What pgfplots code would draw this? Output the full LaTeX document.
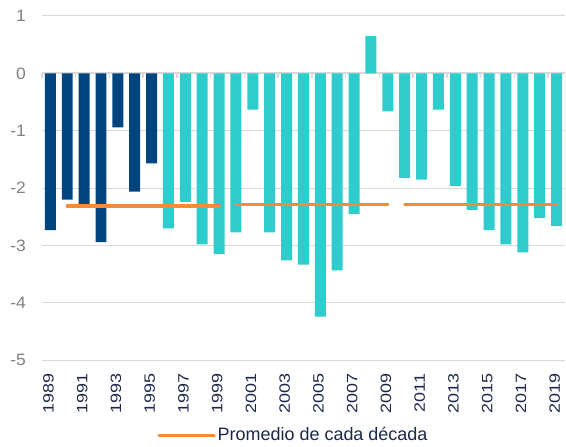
\documentclass[border=0pt]{standalone}
\usepackage{fontspec}
\setmainfont{Liberation Sans}
\newfontfamily\widefont[FakeStretch=1.2]{Liberation Sans}
\newfontfamily\ywidefont[FakeStretch=1.06]{Liberation Sans}
\usepackage{pgfplots}
\pgfplotsset{compat=1.18}
\definecolor{dblue}{RGB}{0,69,127}
\definecolor{cyanbar}{RGB}{46,204,204}
\definecolor{orangeln}{RGB}{245,139,58}
\definecolor{gridgray}{RGB}{217,217,217}
\definecolor{labgray}{RGB}{127,127,127}
\definecolor{navytext}{RGB}{28,40,75}
\begin{document}
\begin{tikzpicture}
\begin{axis}[
  scale only axis, width=524pt, height=345pt,
  xmin=1988.5, xmax=2019.5, ymin=-5, ymax=1,
  ytick={-5,-4,-3,-2,-1,0,1},
  xtick={1989,1991,...,2019},
  xticklabels={1989,1991,1993,1995,1997,1999,2001,2003,2005,2007,2009,2011,2013,2015,2017,2019},
  axis line style={draw=none},
  major tick length=0pt,
  ymajorgrids, grid style={color=gridgray, line width=1pt},
  extra y ticks={0}, extra y tick labels={},
  extra y tick style={grid style={color=gridgray, line width=2pt}},
  /pgf/number format/assume math mode=true,
  yticklabel style={font=\ywidefont\fontsize{16.5}{19}\selectfont, text=labgray, xshift=-12.5pt},
  xticklabel style={font=\widefont\fontsize{15}{18}\selectfont, text=navytext, xshift=-2pt, yshift=-10pt, rotate=90, anchor=east},
  legend style={at={(0.481,-0.217)}, anchor=center, draw=none, fill=none,
    font=\fontsize{18}{21}\selectfont, text=navytext},
  legend image code/.code={\draw[#1] (0pt,0pt) -- (55pt,0pt);},
  clip=false,
]
\pgfplotsinvokeforeach{1988.5,1990.5,1992.5,1994.5,1996.5,1998.5,2000.5,2002.5,2004.5,2006.5,2008.5,2010.5,2012.5,2014.5,2016.5,2018.5}{
  \draw[gridgray, line width=1.5pt] (axis cs:#1,0) -- ++(0pt,-5pt);
}
\addplot[ybar, bar width=0.65, bar shift=0pt, fill=dblue, draw=none, forget plot] coordinates {
 (1989,-2.73) (1990,-2.20) (1991,-2.34) (1992,-2.94) (1993,-0.94) (1994,-2.06) (1995,-1.57)
};
\addplot[ybar, bar width=0.65, bar shift=0pt, fill=cyanbar, draw=none, forget plot] coordinates {
 (1996,-2.70) (1997,-2.24) (1998,-2.98) (1999,-3.15) (2000,-2.77) (2001,-0.63) (2002,-2.77)
 (2003,-3.26) (2004,-3.33) (2005,-4.24) (2006,-3.43) (2007,-2.45) (2008,0.65) (2009,-0.66)
 (2010,-1.82) (2011,-1.85) (2012,-0.63) (2013,-1.96) (2014,-2.38) (2015,-2.73) (2016,-2.98)
 (2017,-3.12) (2018,-2.52) (2019,-2.66)
};
\addplot[orangeln, line width=3.2pt, line cap=round, mark=none] coordinates {(1990,-2.31) (1999,-2.31)};
\addlegendentry{Promedio de cada década}
\addplot[orangeln, line width=3.2pt, line cap=round, mark=none, forget plot] coordinates {(2000,-2.28) (2009,-2.28)};
\addplot[orangeln, line width=3.2pt, line cap=round, mark=none, forget plot] coordinates {(2010,-2.28) (2019,-2.28)};
\end{axis}
\path (current axis.south west) ++(-42pt,-85pt);
\path (current axis.north east) ++(0pt,16pt);
\end{tikzpicture}
\end{document}
